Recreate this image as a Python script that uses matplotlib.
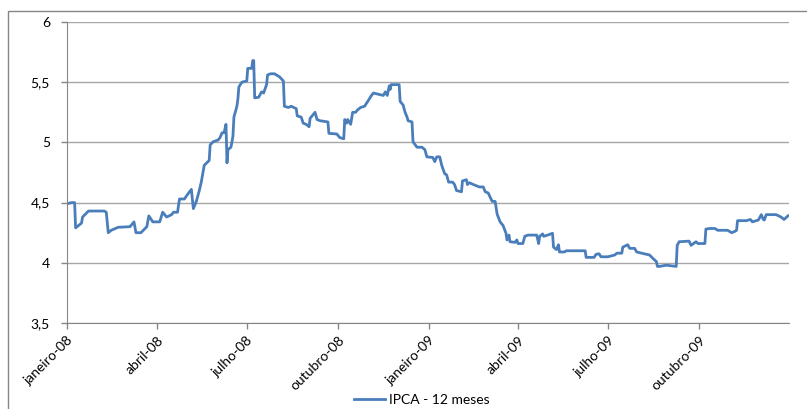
import numpy as np
import matplotlib
import matplotlib.pyplot as plt
from matplotlib.patches import Rectangle

matplotlib.use('Agg')

# days counted from 2008-01-01
days = [0, 5, 8, 9, 12, 15, 16, 22, 38, 40, 42, 45, 52, 64, 68, 70, 75, 81, 83, 87,
        94, 97, 101, 106, 108, 112, 114, 119, 121, 126, 128, 131, 134, 136, 139, 144,
        145, 148, 153, 155, 157, 159, 161, 162, 163, 166, 168, 169, 172, 173, 174, 177,
        182, 183, 187, 188, 189, 190, 194, 195, 197, 199, 202, 203, 206, 210, 215, 219,
        220, 224, 227, 232, 233, 237, 239, 242, 245, 246, 251, 253, 256, 264, 265, 273,
        276, 280, 281, 283, 284, 287, 289, 292, 294, 297, 301, 305, 308, 310, 320, 322,
        324, 326, 327, 328, 336, 337, 340, 342, 344, 345, 349, 350, 354, 359, 362, 364,
        370, 372, 374, 377, 379, 382, 384, 386, 390, 392, 394, 399, 400, 404, 405, 407,
        411, 417, 421, 423, 426, 430, 433, 435, 438, 441, 444, 445, 447, 448, 453, 455,
        456, 461, 463, 466, 475, 477, 478, 481, 482, 486, 491, 492, 495, 497, 498, 503,
        505, 524, 525, 533, 535, 538, 540, 547, 554, 556, 561, 562, 567, 569, 574, 576,
        581, 589, 592, 596, 597, 599, 606, 616, 617, 619, 629, 631, 636, 638, 645, 646,
        650, 655, 658, 668, 672, 675, 677, 678, 687, 691, 693, 699, 702, 704, 705, 707,
        717, 722, 725, 729]
ipca = [4.49, 4.50, 4.50, 4.29, 4.31, 4.33, 4.38, 4.43, 4.43, 4.42, 4.25, 4.27, 4.295, 4.30, 4.34, 4.25, 4.25, 4.30, 4.39, 4.34,
        4.34, 4.42, 4.38, 4.40, 4.42, 4.42, 4.53, 4.53, 4.555, 4.61, 4.45, 4.51, 4.60, 4.67, 4.81, 4.85,
        4.98, 5.005, 5.02, 5.04, 5.08, 5.08, 5.15, 4.83, 4.94, 4.96, 5.05, 5.21, 5.30, 5.36, 5.46, 5.50,
        5.51, 5.615, 5.615, 5.68, 5.68, 5.37, 5.375, 5.39, 5.42, 5.41, 5.48, 5.56, 5.57, 5.57, 5.545, 5.51,
        5.30, 5.29, 5.30, 5.28, 5.22, 5.21, 5.16, 5.15, 5.13, 5.20, 5.25, 5.19, 5.18, 5.17, 5.075, 5.07,
        5.04, 5.03, 5.19, 5.16, 5.19, 5.15, 5.25, 5.25, 5.27, 5.29, 5.30, 5.35, 5.39, 5.41, 5.39, 5.42,
        5.39, 5.47, 5.44, 5.48, 5.48, 5.34, 5.31, 5.25, 5.21, 5.18, 5.17, 5.005, 4.96, 4.96, 4.94, 4.88,
        4.875, 4.84, 4.88, 4.88, 4.81, 4.74, 4.73, 4.67, 4.67, 4.65, 4.60, 4.59, 4.68, 4.69, 4.65, 4.665,
        4.65, 4.63, 4.63, 4.59, 4.58, 4.51, 4.51, 4.405, 4.34, 4.31, 4.245, 4.19, 4.23, 4.175, 4.17, 4.19,
        4.16, 4.16, 4.22, 4.23, 4.23, 4.16, 4.22, 4.24, 4.22, 4.23, 4.245, 4.13, 4.11, 4.15, 4.09, 4.09,
        4.10, 4.10, 4.045, 4.045, 4.07, 4.075, 4.05, 4.05, 4.065, 4.08, 4.08, 4.13, 4.15, 4.12, 4.12, 4.09,
        4.08, 4.065, 4.04, 4.01, 3.97, 3.97, 3.98, 3.97, 4.145, 4.175, 4.18, 4.145, 4.175, 4.16, 4.16, 4.28,
        4.285, 4.285, 4.27, 4.27, 4.25, 4.26, 4.27, 4.35, 4.35, 4.36, 4.34, 4.355, 4.40, 4.36, 4.355, 4.40,
        4.40, 4.38, 4.36, 4.39]

tick_dates = ['2008-01-01', '2008-04-01', '2008-07-01', '2008-10-01',
              '2009-01-01', '2009-04-01', '2009-07-01', '2009-10-01']
tick_labels = ['janeiro-08', 'abril-08', 'julho-08', 'outubro-08',
               'janeiro-09', 'abril-09', 'julho-09', 'outubro-09']
y_ticks = [3.5, 4, 4.5, 5, 5.5, 6]
y_labels = ['3,5', '4', '4,5', '5', '5,5', '6']

plt.rcParams['font.family'] = ['Lato', 'DejaVu Sans']

dates = np.datetime64('2008-01-01') + np.array(days).astype('timedelta64[D]')

W, H = 807, 409
fig = plt.figure(figsize=(W / 100, H / 100), dpi=100)
ax = fig.add_axes([66.7 / W, 1 - 323 / H, (789 - 66.7) / W, (323 - 22) / H])

ax.plot(dates, ipca, color='#4A7EBB', lw=2.0, label='IPCA - 12 meses')

ax.set_ylim(3.5, 6)
ax.set_yticks(y_ticks)
ax.set_yticklabels(y_labels, fontsize=10)
ax.set_xlim(np.datetime64('2008-01-01'), np.datetime64('2009-12-31'))
ax.set_xticks(np.array(tick_dates, dtype='datetime64[D]'))
ax.set_xticklabels(tick_labels, fontsize=10, rotation=45, ha='right', va='top',
                   rotation_mode='anchor')

ax.grid(axis='y', color='#A6A6A6', lw=1)
ax.set_axisbelow(True)
for s in ['top', 'right']:
    ax.spines[s].set_visible(False)
for s in ['left', 'bottom']:
    ax.spines[s].set_color('#868686')
ax.tick_params(axis='both', color='#868686', length=4, width=1, labelcolor='black')
ax.tick_params(axis='y', pad=8)
ax.tick_params(axis='x', pad=4)

fig.legend(loc='center', bbox_to_anchor=(422 / W, 1 - 400 / H), frameon=False,
           fontsize=10, handlelength=2.2, handletextpad=0.3)

# outer chart frame (cut off at the right and bottom in the image)
fig.add_artist(Rectangle((8 / W, -0.1), 1.0, 1.1 - 11 / H, transform=fig.transFigure,
                         fill=False, edgecolor='#868686', lw=1))

fig.savefig('out.png', dpi=100)
